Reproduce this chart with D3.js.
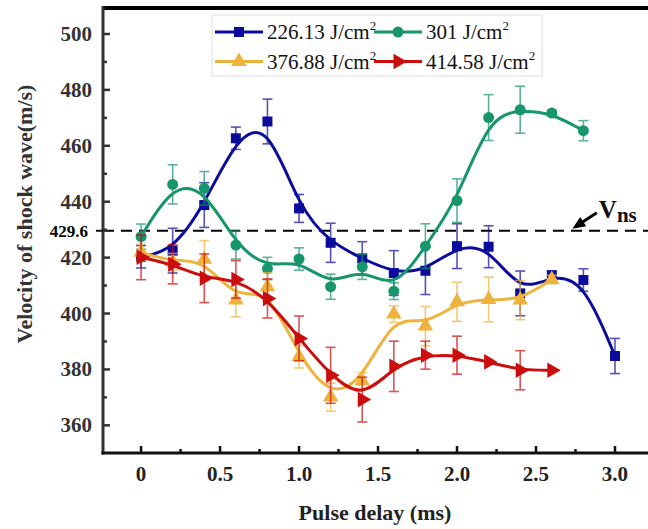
<!DOCTYPE html>
<html lang="en">
<head>
<meta charset="UTF-8">
<script src="https://d3js.org/d3.v7.min.js"></script>
<style>
  * { margin: 0; padding: 0; }
  body { background: #fff; width: 648px; height: 529px; overflow: hidden; }
  svg { display: block; font-family: "Liberation Serif", "Times New Roman", serif; }
</style>
</head>
<body>
<svg id="chart" width="648" height="529"></svg>
<script>
// pulse delays (ms)
const delays = [0, 0.2, 0.4, 0.6, 0.8, 1.0, 1.2, 1.4, 1.6, 1.8, 2.0, 2.2, 2.4, 2.6, 2.8, 3.0];

// velocities (m/s) and error bars, one pair per fluence
const v226 = [420.3, 422.5, 438.8, 462.7, 468.7, 437.6, 425.3, 419.7, 414.5, 415.3, 424.1, 423.9, 407.2, 413.7, 412.0, 384.8];
const e226 = [4, 8, 8, 4, 8, 5, 7, 6, 8, 8.5, 8, 7.5, 8, 1.5, 4, 6.3];
const v301 = [427.5, 446.2, 444.8, 424.5, 416.1, 419.5, 409.6, 416.7, 408.0, 424.1, 440.4, 470.1, 472.9, 471.7, 465.4];
const e301 = [4.5, 7, 6, 5, 4, 4, 4.5, 4.5, 3, 8, 7.8, 8.2, 8.4, 1, 3.6];
const v377 = [421.9, 418.5, 419.4, 404.8, 409.6, 384.5, 370.1, 375.9, 399.8, 395.5, 404.2, 405.0, 404.8, 412.2];
const e377 = [3, 3, 6.7, 6, 5, 4, 5, 3, 3, 7, 7, 8, 7, 1.5];
const v415 = [420.1, 417.6, 412.6, 412.2, 405.4, 391.1, 377.9, 369.2, 381.1, 385.1, 385.1, 382.7, 379.7, 379.7];
const e415 = [8, 7, 8.7, 6.7, 7, 8, 10, 8, 9, 5, 6.8, 0, 7, 0];

const seriesNames = ['226.13', '301', '376.88', '414.58'];
const seriesColors = ['#0b0b9c', '#17956b', '#eeb33c', '#cc0d0d'];

const xTicks = [0, 0.5, 1.0, 1.5, 2.0, 2.5, 3.0];
const xMinor = [0.25, 0.75, 1.25, 1.75, 2.25, 2.75];
const yTicks = [360, 380, 400, 420, 440, 460, 480, 500];
const yMinor = [370, 390, 410, 430, 450, 470, 490];
const vns = 429.6;

const series = [
  { name: seriesNames[0], color: seriesColors[0], shape: 'square', vals: v226, errs: e226 },
  { name: seriesNames[1], color: seriesColors[1], shape: 'circle', vals: v301, errs: e301 },
  { name: seriesNames[2], color: seriesColors[2], shape: 'up', vals: v377, errs: e377 },
  { name: seriesNames[3], color: seriesColors[3], shape: 'right', vals: v415, errs: e415 }
];

const svg = d3.select('#chart');
const pLeft = 103, pRight = 648, pTop = 8, pBottom = 453;

const x = d3.scaleLinear().domain([-0.241, 3.209]).range([pLeft, pRight]);
const y = d3.scaleLinear().domain([350.1, 509.3]).range([pBottom, pTop]);

function symbolFor(shape) {
  if (shape === 'square') return d3.symbol(d3.symbolSquare, 100)();
  if (shape === 'circle') return d3.symbol(d3.symbolCircle, 95)();
  return d3.symbol(d3.symbolTriangle, 105)();
}
function rotFor(shape) { return shape === 'right' ? 90 : 0; }

// dashed reference line
svg.append('line')
  .attr('x1', pLeft).attr('x2', pRight)
  .attr('y1', y(vns)).attr('y2', y(vns))
  .attr('stroke', '#000').attr('stroke-width', 2)
  .attr('stroke-dasharray', '11,7');

const line = d3.line().curve(d3.curveBasis)
  .x(d => x(d[0])).y(d => y(d[1]));

series.forEach(s => {
  const pts = s.vals.map((v, i) => [delays[i], v, s.errs[i]]);
  const g = svg.append('g');

  // error bars
  const eb = g.append('g').attr('stroke', s.color).attr('stroke-width', 1.6).attr('opacity', 0.7);
  pts.filter(p => p[2] > 0).forEach(p => {
    const cx = x(p[0]);
    eb.append('line').attr('x1', cx).attr('x2', cx).attr('y1', y(p[1] - p[2])).attr('y2', y(p[1] + p[2]));
    eb.append('line').attr('x1', cx - 5).attr('x2', cx + 5).attr('y1', y(p[1] - p[2])).attr('y2', y(p[1] - p[2]));
    eb.append('line').attr('x1', cx - 5).attr('x2', cx + 5).attr('y1', y(p[1] + p[2])).attr('y2', y(p[1] + p[2]));
  });

  g.append('path').datum(pts)
    .attr('d', line)
    .attr('fill', 'none')
    .attr('stroke', s.color)
    .attr('stroke-width', 3);

  g.selectAll('path.mk').data(pts).enter().append('path')
    .attr('class', 'mk')
    .attr('d', symbolFor(s.shape))
    .attr('transform', d => `translate(${x(d[0])},${y(d[1])}) rotate(${rotFor(s.shape)})`)
    .attr('fill', s.color);
});

// axes
const axis = svg.append('g');
axis.append('line').attr('x1', pLeft).attr('x2', pRight).attr('y1', pTop).attr('y2', pTop)
  .attr('stroke', '#000').attr('stroke-width', 4);
axis.append('line').attr('x1', pLeft).attr('x2', pLeft).attr('y1', pTop - 2).attr('y2', pBottom + 1.5)
  .attr('stroke', '#333').attr('stroke-width', 3);
axis.append('line').attr('x1', pLeft - 1.5).attr('x2', pRight).attr('y1', pBottom).attr('y2', pBottom)
  .attr('stroke', '#111').attr('stroke-width', 3);

xTicks.forEach(t => {
  axis.append('line').attr('x1', x(t)).attr('x2', x(t)).attr('y1', pBottom).attr('y2', pBottom - 7)
    .attr('stroke', '#111').attr('stroke-width', 2.5);
  axis.append('text').attr('x', x(t)).attr('y', pBottom + 28)
    .attr('text-anchor', 'middle').attr('font-weight', 'bold').attr('font-size', 21).attr('fill', '#222')
    .text(t === 0 ? '0' : d3.format('.1f')(t));
});
xMinor.forEach(t => {
  axis.append('line').attr('x1', x(t)).attr('x2', x(t)).attr('y1', pBottom).attr('y2', pBottom - 4)
    .attr('stroke', '#111').attr('stroke-width', 2.5);
});
yTicks.forEach(t => {
  axis.append('line').attr('x1', pLeft).attr('x2', pLeft + 7).attr('y1', y(t)).attr('y2', y(t))
    .attr('stroke', '#333').attr('stroke-width', 2.5);
  axis.append('text').attr('x', pLeft - 11).attr('y', y(t) + 7)
    .attr('text-anchor', 'end').attr('font-weight', 'bold').attr('font-size', 21).attr('fill', '#333')
    .text(t);
});
yMinor.forEach(t => {
  axis.append('line').attr('x1', pLeft).attr('x2', pLeft + 4).attr('y1', y(t)).attr('y2', y(t))
    .attr('stroke', '#333').attr('stroke-width', 2.5);
});
// 429.6 marker on the y axis
axis.append('line').attr('x1', pLeft - 7).attr('x2', pLeft).attr('y1', y(vns)).attr('y2', y(vns))
  .attr('stroke', '#111').attr('stroke-width', 2);
axis.append('text').attr('x', pLeft - 15).attr('y', y(vns) + 6)
  .attr('text-anchor', 'end').attr('font-weight', 'bold').attr('font-size', 17).attr('fill', '#000')
  .text('429.6');

// axis titles
svg.append('text')
  .attr('transform', `translate(32,214) rotate(-90)`)
  .attr('text-anchor', 'middle').attr('font-weight', 'bold').attr('font-size', 22).attr('fill', '#333')
  .text('Velocity of shock wave(m/s)');
svg.append('text')
  .attr('x', 375).attr('y', 520)
  .attr('text-anchor', 'middle').attr('font-weight', 'bold').attr('font-size', 22).attr('fill', '#222')
  .text('Pulse delay (ms)');

// Vns annotation with arrow
const tipX = x(2.73), tipY = y(vns) - 2;
const tailX = x(2.885), tailY = y(vns) - 18;
const ang = Math.atan2(tipY - tailY, tipX - tailX);
svg.append('line').attr('x1', tailX).attr('y1', tailY)
  .attr('x2', tipX - 9 * Math.cos(ang)).attr('y2', tipY - 9 * Math.sin(ang))
  .attr('stroke', '#000').attr('stroke-width', 3);
const hw = 5.5, hl = 13;
const bx = tipX - hl * Math.cos(ang), by = tipY - hl * Math.sin(ang);
svg.append('path')
  .attr('d', `M${tipX},${tipY}L${bx + hw * Math.sin(ang)},${by - hw * Math.cos(ang)}L${bx - hw * Math.sin(ang)},${by + hw * Math.cos(ang)}Z`)
  .attr('fill', '#000');
const vt = svg.append('text').attr('x', tailX + 2).attr('y', y(vns) - 13)
  .attr('font-weight', 'bold').attr('fill', '#111');
vt.append('tspan').attr('font-size', 25).text('V');
vt.append('tspan').attr('font-size', 21).attr('dy', 4).text('ns');

// legend
const lg = svg.append('g').attr('transform', 'translate(212,15)');
lg.append('rect').attr('width', 330).attr('height', 61)
  .attr('fill', '#fff').attr('stroke', '#ddd').attr('stroke-width', 1);
series.forEach((s, i) => {
  const col = i % 2, row = Math.floor(i / 2);
  const ox = 3 + col * 159, oy = 17 + row * 29.5;
  const item = lg.append('g').attr('transform', `translate(${ox},${oy})`);
  item.append('line').attr('x1', 0).attr('x2', 48).attr('y1', 0).attr('y2', 0)
    .attr('stroke', s.color).attr('stroke-width', 3);
  item.append('path').attr('d', symbolFor(s.shape))
    .attr('transform', `translate(24,0) rotate(${rotFor(s.shape)})`)
    .attr('fill', s.color);
  const t = item.append('text').attr('x', 52).attr('y', 7)
    .attr('font-size', 21).attr('fill', '#111');
  t.append('tspan').text(s.name + ' J/cm');
  t.append('tspan').attr('font-size', 13).attr('dy', -9).text('2');
});
</script>
</body>
</html>
